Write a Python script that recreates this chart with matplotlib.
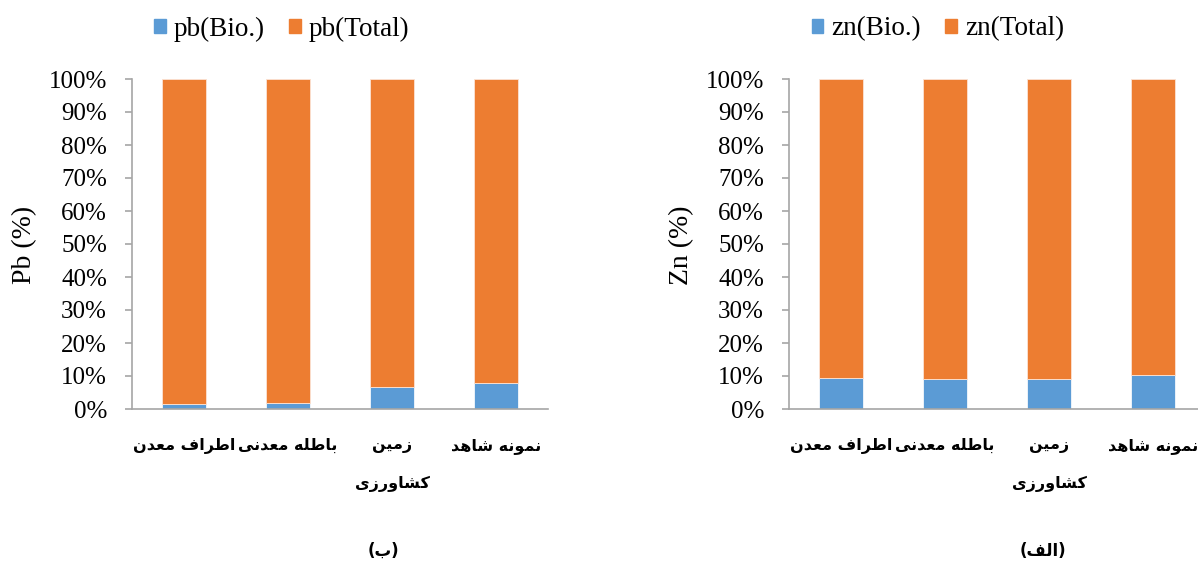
import matplotlib
matplotlib.use("Agg")
import matplotlib.pyplot as plt
from matplotlib.patches import Patch

# ---------------- data ----------------
categories = ["اطراف معدن", "باطله معدنی", "زمین\nکشاورزی", "نمونه شاهد"]
pb_bio = [1.6, 1.8, 6.8, 7.8]
pb_total = [100 - v for v in pb_bio]
zn_bio = [9.3, 9.0, 9.0, 10.2]
zn_total = [100 - v for v in zn_bio]
yticks = [0, 10, 20, 30, 40, 50, 60, 70, 80, 90, 100]

BLUE = "#5B9BD5"
ORANGE = "#ED7D31"

# -------------- minimal Persian shaping --------------
FORMS = {
    "ا": ("\uFE8D", "\uFE8E"),
    "د": ("\uFEA9", "\uFEAA"),
    "ر": ("\uFEAD", "\uFEAE"),
    "ز": ("\uFEAF", "\uFEB0"),
    "و": ("\uFEED", "\uFEEE"),
    "ب": ("\uFE8F", "\uFE90", "\uFE91", "\uFE92"),
    "ط": ("\uFEC1", "\uFEC2", "\uFEC3", "\uFEC4"),
    "ف": ("\uFED1", "\uFED2", "\uFED3", "\uFED4"),
    "م": ("\uFEE1", "\uFEE2", "\uFEE3", "\uFEE4"),
    "ع": ("\uFEC9", "\uFECA", "\uFECB", "\uFECC"),
    "ن": ("\uFEE5", "\uFEE6", "\uFEE7", "\uFEE8"),
    "ل": ("\uFEDD", "\uFEDE", "\uFEDF", "\uFEE0"),
    "ه": ("\uFEE9", "\uFEEA", "\uFEEB", "\uFEEC"),
    "ی": ("\uFBFC", "\uFBFD", "\uFBFE", "\uFBFF"),
    "ک": ("\uFB8E", "\uFB8F", "\uFB90", "\uFB91"),
    "ش": ("\uFEB5", "\uFEB6", "\uFEB7", "\uFEB8"),
}


def shape_line(text):
    out = []
    n = len(text)
    for i, ch in enumerate(text):
        if ch not in FORMS:
            out.append(ch)
            continue
        prev = text[i - 1] if i > 0 else None
        nxt = text[i + 1] if i < n - 1 else None
        jp = prev is not None and prev in FORMS and len(FORMS[prev]) == 4
        jn = nxt is not None and nxt in FORMS and len(FORMS[ch]) == 4
        f = FORMS[ch]
        if jp and jn:
            out.append(f[3])
        elif jp:
            out.append(f[1])
        elif jn:
            out.append(f[2])
        else:
            out.append(f[0])
    return "".join(out)[::-1]


def shape(text):
    return "\n".join(shape_line(t) for t in text.split("\n"))


# ---------------- figure ----------------
W, H = 1198, 565
fig = plt.figure(figsize=(W / 100, H / 100), dpi=100)

GRAY = "#A6A6A6"
SERIF = "Liberation Serif"
PERS = "DejaVu Sans"


def make_panel(x0, bio, total, ylab, legend_labels, legend_cx, bottom_label):
    ax = fig.add_axes([x0 / W, (H - 409) / H, 416 / W, 330 / H])
    x = range(len(categories))
    ax.bar(x, bio, width=0.425, color=BLUE, edgecolor="#F4F8FC", linewidth=0.6)
    ax.bar(x, total, bottom=bio, width=0.425, color=ORANGE, edgecolor="#FBE3D4", linewidth=0.6)
    ax.set_xlim(-0.5, len(categories) - 0.5)
    ax.set_ylim(0, 100)
    ax.set_yticks(yticks)
    ax.set_yticklabels([f"{v}%" for v in yticks], family=SERIF, fontsize=18)
    ax.set_xticks([])
    for s in ["top", "right"]:
        ax.spines[s].set_visible(False)
    for s in ["left", "bottom"]:
        ax.spines[s].set_color(GRAY)
        ax.spines[s].set_linewidth(1.2)
    ax.tick_params(axis="y", length=5, width=1.2, color=GRAY, pad=13)
    fig.text((x0 - 107) / W, 1 - 245 / H, ylab, rotation=90, ha="center",
             va="center", family=SERIF, fontsize=20)
    for i, c in enumerate(categories):
        ax.text(i, -0.088, shape(c), transform=ax.get_xaxis_transform(),
                ha="center", va="top", family=PERS, fontweight="bold",
                fontsize=11.5, linespacing=2.9)
    handles = [Patch(color=BLUE), Patch(color=ORANGE)]
    fig.legend(handles, legend_labels, loc="center",
               bbox_to_anchor=(legend_cx / W, 1 - 29 / H), ncol=2, frameon=False,
               prop={"family": SERIF, "size": 19.5}, handlelength=0.42,
               handleheight=0.42, handletextpad=0.3, columnspacing=0.9)
    fig.text(bottom_label[1] / W, 1 - 551 / H, bottom_label[0], ha="center",
             va="center", family=PERS, fontweight="bold", fontsize=12)
    return ax


make_panel(132, pb_bio, pb_total, "Pb (%)", ["pb(Bio.)", "pb(Total)"], 282,
           ("(" + shape("ب") + ")", 383))
make_panel(789, zn_bio, zn_total, "Zn (%)", ["zn(Bio.)", "zn(Total)"], 938,
           ("(" + shape("الف") + ")", 1043))

fig.savefig("out.png", dpi=100)
